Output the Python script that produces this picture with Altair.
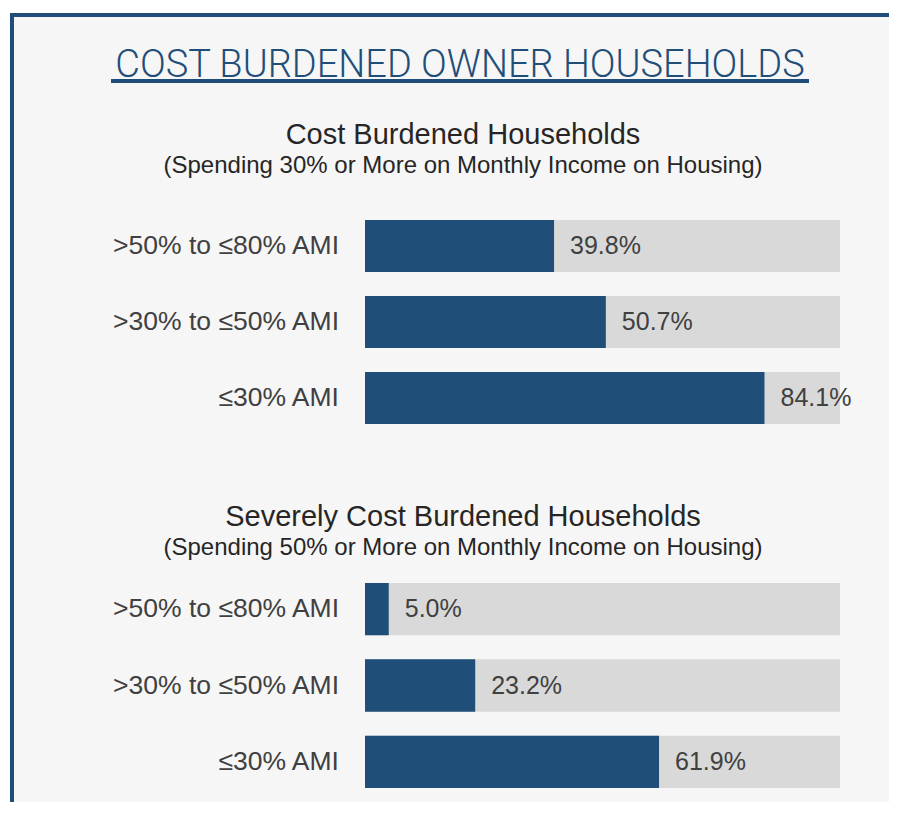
import altair as alt
import pandas as pd

# ---- data ----
categories = [">50% to ≤80% AMI", ">30% to ≤50% AMI", "≤30% AMI"]
cost_burdened = [39.8, 50.7, 84.1]
severely_cost_burdened = [5.0, 23.2, 61.9]

main_title = "COST BURDENED OWNER HOUSEHOLDS"
panel1_title = "Cost Burdened Households"
panel1_sub = "(Spending 30% or More on Monthly Income on Housing)"
panel2_title = "Severely Cost Burdened Households"
panel2_sub = "(Spending 50% or More on Monthly Income on Housing)"

W, H = 881, 794
DARK = "#1f4e79"
GREY = "#d9d9d9"
BG = "#f6f6f6"
TXT = "#404040"
FONT = "Liberation Sans"

one = alt.Data(values=[{}])


def deco_text(txt, x, y, size, color, font=FONT, weight="normal"):
    return alt.Chart(one).mark_text(
        text=txt, font=font, fontSize=size, color=color, align="center",
        baseline="alphabetic", fontWeight=weight
    ).encode(x=alt.value(x), y=alt.value(y))


def panel(values, y_range):
    df = pd.DataFrame({"cat": categories, "value": values, "full": [100] * len(values)})
    base = alt.Chart(df)
    y = alt.Y("cat:N", sort=categories, axis=None,
              scale=alt.Scale(domain=categories, range=y_range,
                              paddingInner=24 / 76, paddingOuter=0))
    xs = alt.Scale(domain=[0, 100], range=[357, 832])
    bg = base.mark_bar(color=GREY).encode(
        x=alt.X("full:Q", scale=xs, axis=None), y=y)
    fg = base.mark_bar(color=DARK).encode(
        x=alt.X("value:Q", scale=xs, axis=None), y=y)
    vals = base.transform_calculate(
        lbl="format(datum.value, '.1f') + '%'"
    ).mark_text(align="left", baseline="middle", dx=16, font=FONT,
                fontSize=25, color=TXT).encode(
        x=alt.X("value:Q", scale=xs, axis=None), y=y, text="lbl:N")
    cats = base.mark_text(align="right", baseline="middle", font=FONT,
                          fontSize=26.5, color=TXT).encode(
        x=alt.value(331), y=y, text="cat:N")
    return alt.layer(bg, fg, vals, cats)


# decorations
frame = alt.Chart(one).mark_rect(fill=BG, stroke=DARK, strokeWidth=4).encode(
    x=alt.value(4), y=alt.value(7), x2=alt.value(W + 40), y2=alt.value(H + 40))
underline = alt.Chart(one).mark_rule(color=DARK, strokeWidth=4).encode(
    x=alt.value(103), x2=alt.value(801), y=alt.value(73))

t0 = deco_text(main_title, 452, 69, 38, DARK, font="Roboto", weight=300)
t1 = deco_text(panel1_title, 455, 136, 29, "#262626")
s1 = deco_text(panel1_sub, 455, 165, 24, "#262626")
t2 = deco_text(panel2_title, 455, 518, 29, "#262626")
s2 = deco_text(panel2_sub, 455, 547, 24, "#262626")

p1 = panel(cost_burdened, [212, 416])
p2 = panel(severely_cost_burdened, [575, 780])

chart = alt.layer(frame, underline, t0, t1, s1, t2, s2, p1, p2).resolve_scale(
    y="independent"
).properties(
    width=W, height=H, padding=0, autosize=alt.AutoSizeParams(type="none")
).configure(background="white").configure_view(stroke=None)

chart.save("out.html", embed_options={"renderer": "svg", "actions": False})
